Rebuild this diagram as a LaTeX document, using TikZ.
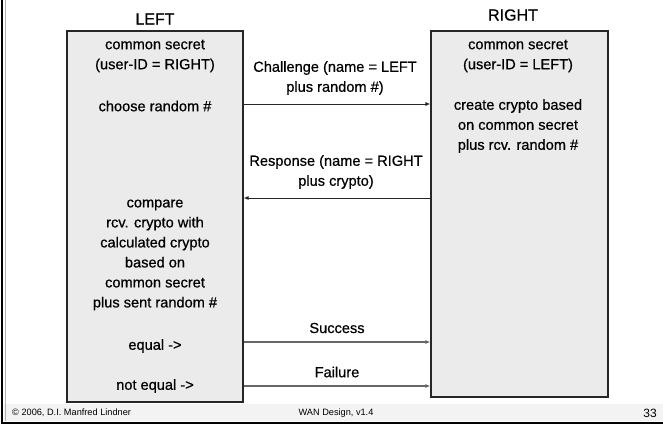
\documentclass[tikz,border=0pt]{standalone}
\usepackage{fontspec}
\setmainfont{Liberation Sans}
\newfontfamily\heavyface{Liberation Sans}[FakeBold=0.6]
\usetikzlibrary{arrows.meta}
\definecolor{boxfill}{HTML}{EBEBEB}
\definecolor{footfill}{HTML}{F3F3F3}
\begin{document}
\begin{tikzpicture}[x=1pt,y=-1pt,
  party/.style={draw=black!85,line width=1.2pt,fill=boxfill,inner sep=0pt},
  txt/.style={align=center,inner sep=0pt,font=\heavyface\fontsize{14.6}{20}\selectfont},
  title/.style={inner sep=0pt,font=\heavyface\fontsize{16}{18}\selectfont},
  msg/.style={draw=black!85,line width=0.9pt,-{Latex[length=5pt,width=4pt]}},
  result/.style={draw=black!60,line width=1.4pt,-{Latex[length=5pt,width=4pt]}},
  foot/.style={inner sep=0pt,font=\fontsize{9.2}{11}\selectfont}]
\useasboundingbox (0,0) rectangle (663,425);
\fill[white] (0,0) rectangle (663,425);
% footer band and frame
\fill[footfill] (4,404) rectangle (663,421);
\draw[black,line width=2pt] (2,0) -- (2,423) -- (663,423);
\draw[black!30,line width=0.8pt] (5,0) -- (5,421);
\node[foot,anchor=west] (copy) at (12,413) {© 2006, D.I. Manfred Lindner};
\node[foot] (course) at (336,413) {WAN Design, v1.4};
\node[inner sep=0pt,font=\fontsize{12}{14}\selectfont,anchor=east] (page) at (657,413) {33};

% the two parties
\node[party,minimum width=176,minimum height=371] (left) at (155,216.5) {};
\node[party,minimum width=177,minimum height=366] (right) at (519.5,214) {};
\node[title] (lefttitle) at (155,19) {LEFT};
\node[title] (righttitle) at (513,15) {RIGHT};

% left side texts
\node[txt] (lsecret) at (155,56) {common secret\\(user-ID = RIGHT)};
\node[txt] (lrandom) at (155,106) {choose random \#};
\node[txt] (lcompare) at (155,255) {compare\\rcv. crypto with\\calculated crypto\\based on\\common secret\\plus sent random \#};
\node[txt] (lequal) at (155,346) {equal ->};
\node[txt] (lnotequal) at (155,386) {not equal ->};

% right side texts
\node[txt] (rsecret) at (518,56) {common secret\\(user-ID = LEFT)};
\node[txt] (rcrypto) at (518,126) {create crypto based\\on common secret\\plus rcv. random \#};

% message heights
\coordinate (ych) at (0,104);
\coordinate (yre) at (0,198);
\coordinate (ysu) at (0,342);
\coordinate (yfa) at (0,386);

\draw[msg] (left.east |- ych) -- (right.west |- ych);
\draw[msg] (right.west |- yre) -- (left.east |- yre);
\draw[result] (left.east |- ysu) -- (right.west |- ysu);
\draw[result] (left.east |- yfa) -- (right.west |- yfa);

\node[txt] (chlabel) at (335,78) {Challenge (name = LEFT\\plus random \#)};
\node[txt] (relabel) at (336,172) {Response (name = RIGHT\\plus crypto)};
\node[txt] (sulabel) at (337,328) {Success};
\node[txt] (falabel) at (337,372) {Failure};
\end{tikzpicture}
\end{document}
